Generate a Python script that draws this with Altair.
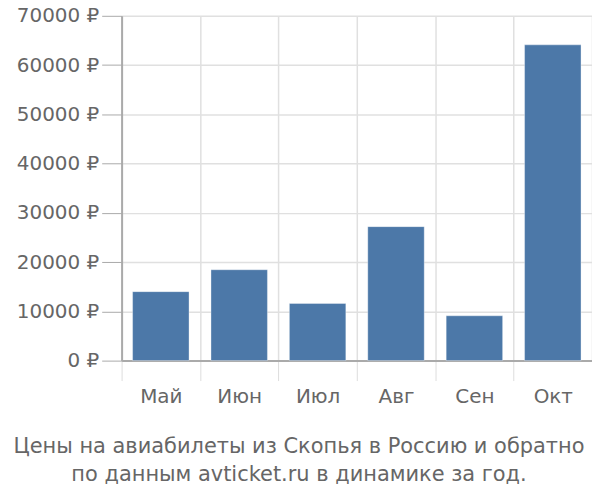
import altair as alt
import pandas as pd

months = ["Май", "Июн", "Июл", "Авг", "Сен", "Окт"]
prices = [14000, 18450, 11600, 27200, 9100, 64100]
y_ticks = [0, 10000, 20000, 30000, 40000, 50000, 60000, 70000]
title_lines = ["Цены на авиабилеты из Скопья в Россию и обратно",
               "по данным avticket.ru в динамике за год."]

df = pd.DataFrame({"month": months, "price": prices})
FONT = "DejaVu Sans"

chart = alt.Chart(df).mark_bar(
    color="#4c78a8", stroke="#ffffff", strokeOpacity=0.35, strokeWidth=1,
    width=alt.RelativeBandSize(0.72)
).encode(
    x=alt.X("month:N", sort=months, title=None,
            scale=alt.Scale(paddingInner=0, paddingOuter=0),
            axis=alt.Axis(labelAngle=0, labelFontSize=20, labelColor="#666666",
                          labelFont=FONT, labelPadding=6,
                          tickSize=20, tickColor="#dddddd", tickBand="extent",
                          grid=True, gridColor="#e0e0e0", gridWidth=1.5,
                          domainColor="#aaaaaa", domainWidth=2)),
    y=alt.Y("price:Q", title=None,
            scale=alt.Scale(domain=[0, 70000]),
            axis=alt.Axis(values=y_ticks, labelExpr="datum.value + ' ₽'",
                          labelFontSize=20, labelColor="#666666",
                          labelFont=FONT, labelPadding=3,
                          tickSize=20, tickColor="#aaaaaa",
                          grid=True, gridColor="#e0e0e0", gridWidth=1.5,
                          domainColor="#aaaaaa", domainWidth=2)),
).properties(
    width=472, height=346,
    title=alt.TitleParams(title_lines, orient="bottom", anchor="middle",
                          font=FONT, fontSize=21, fontWeight="normal",
                          color="#666666", offset=30, dx=-58, lineHeight=28),
    autosize=alt.AutoSizeParams(type="none"),
    padding={"left": 114, "top": 7, "right": 0, "bottom": 130},
).configure_view(stroke=None)

chart.save("out.html", embed_options={"renderer": "svg", "actions": False})
